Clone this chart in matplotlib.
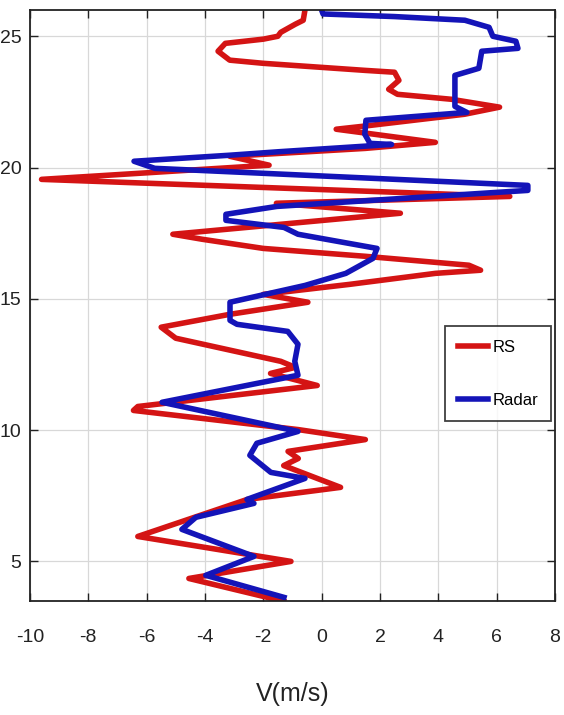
import matplotlib
matplotlib.use("Agg")
import matplotlib.pyplot as plt

plt.rcParams['font.family'] = ['Liberation Sans', 'DejaVu Sans']
plt.rcParams['axes.unicode_minus'] = False

# RS (radiosonde) profile: velocity (m/s) vs height
rs_v = [-0.57, -0.63, -0.9, -1.4, -1.5, -2.0, -3.3, -3.55, -3.15, -2.0, 1.5, 2.5,
        2.65, 2.3, 2.6, 4.45, 6.1, 4.9, 1.4, 0.5, 3.9, 1.5, -3.15, -1.8, -5.7,
        -9.6, 6.45, -1.55, 2.7, -5.1, -4.1, -2.0, 1.5, 5.05, 5.45, 3.9, 0.95,
        -2.0, -0.47, -3.15, -5.5, -5.0, -1.4, -0.9, -1.75, -0.15, -6.3, -6.45,
        -0.8, 1.5, -1.15, -0.8, -1.3, 0.65, -2.55, -6.3, -1.05, -4.55, -1.3]
rs_h = [26.0, 25.61, 25.46, 25.15, 25.0, 24.89, 24.73, 24.43, 24.09, 23.97, 23.70, 23.63,
        23.32, 22.98, 22.79, 22.6, 22.30, 22.03, 21.57, 21.46, 20.96, 20.73, 20.43, 20.09, 19.82,
        19.55, 18.90, 18.64, 18.26, 17.46, 17.27, 16.92, 16.62, 16.28, 16.09, 15.97, 15.55,
        15.17, 14.87, 14.41, 13.92, 13.50, 12.62, 12.39, 12.16, 11.70, 10.90, 10.75,
        10.02, 9.64, 9.19, 8.92, 8.65, 7.82, 7.36, 5.95, 5.0, 4.35, 3.48]

# Radar profile
radar_v = [0.0, 0.05, 2.5, 4.91, 5.74, 5.87, 6.66, 6.73, 5.49, 5.39, 4.57, 4.57,
           4.98, 1.52, 1.48, 1.66, 2.4, -1.5, -3.14, -6.43, -5.72, 7.07, 7.07,
           -1.53, -3.28, -3.28, -1.29, -0.81, 1.90, 1.76, 0.83, -0.57, -3.14,
           -3.14, -2.90, -1.16, -0.81, -0.92, -0.81, -5.47, -0.81, -2.22, -2.46,
           -1.74, -0.57, -2.56, -2.32, -4.31, -4.79, -2.32, -3.97, -1.29]
radar_h = [26.0, 25.85, 25.75, 25.61, 25.34, 25.0, 24.81, 24.54, 24.43, 23.78, 23.51, 22.33,
           22.10, 21.80, 21.27, 20.92, 20.88, 20.6, 20.47, 20.24, 19.97, 19.32, 19.13,
           18.52, 18.22, 17.99, 17.72, 17.46, 16.92, 16.54, 15.97, 15.51, 14.87,
           14.18, 14.03, 13.76, 13.27, 12.62, 12.09, 11.06, 9.95, 9.50, 9.04,
           8.39, 8.16, 7.36, 7.21, 6.68, 6.22, 5.19, 4.47, 3.63]

xticks = [-10, -8, -6, -4, -2, 0, 2, 4, 6, 8]
yticks = [5, 10, 15, 20, 25]

fig = plt.figure(figsize=(5.64, 7.15), dpi=100)
ax = fig.add_axes([0.053, 0.159, 0.931, 0.827])

ax.plot(rs_v, rs_h, color='#d41414', lw=4.0, label='RS', solid_joinstyle='round')
ax.plot(radar_v, radar_h, color='#1414b8', lw=4.0, label='Radar', solid_joinstyle='round')

ax.set_xlim(-10, 8)
ax.set_ylim(3.48, 26.0)
ax.set_xticks(xticks)
ax.set_yticks(yticks)
ax.grid(True, color='#d8d8d8', lw=0.9)
ax.set_axisbelow(True)
ax.tick_params(direction='in', length=6, width=1.0, top=True, right=True,
               labelsize=14, colors='#222222')
ax.tick_params(axis='x', pad=20)
ax.tick_params(axis='y', pad=6)
for s in ax.spines.values():
    s.set_linewidth(1.3)
    s.set_color('#222222')

ax.set_xlabel('V(m/s)', fontsize=18, labelpad=26, color='#222222')

leg = ax.legend(loc='upper left', bbox_to_anchor=(0.79, 0.465), fontsize=12,
                frameon=True, fancybox=False, edgecolor='#111111',
                handlelength=1.8, handletextpad=0.25, borderpad=0.8,
                labelspacing=2.3, borderaxespad=0)
leg.get_frame().set_linewidth(1.3)

fig.savefig('out.png', dpi=100)
